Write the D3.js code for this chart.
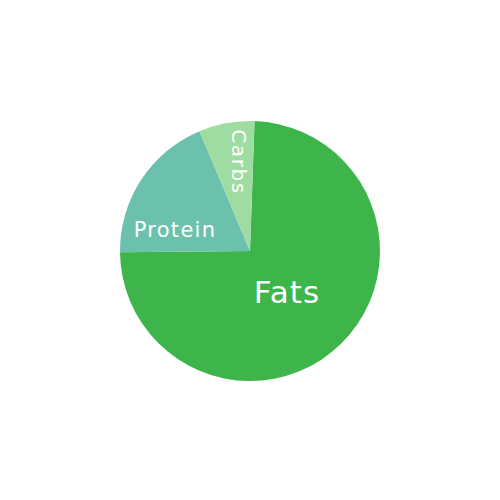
<!DOCTYPE html>
<html>
<head>
<meta charset="utf-8">
<script src="https://cdn.jsdelivr.net/npm/d3@7"></script>
<style>
  body { margin: 0; background: #fff; }
  svg { display: block; }
</style>
</head>
<body>
<script>
// macro split (percent)
var names = ["Fats", "Protein", "Carbs"];
var values = [74.3, 18.8, 6.9];
var colors = ["#3db54b", "#6cc1ac", "#9edca2"];

var width = 500, height = 500,
    cx = 250, cy = 251, radius = 130;

var svg = d3.select("body").append("svg")
    .attr("width", width)
    .attr("height", height);

var g = svg.append("g")
    .attr("transform", "translate(" + cx + "," + cy + ")");

var data = names.map(function(n, i) { return {name: n, value: values[i], color: colors[i]}; });

// fats start just past 12 o'clock, going clockwise
var start = 2 * Math.PI / 180;
var pie = d3.pie()
    .sort(null)
    .value(function(d) { return d.value; })
    .startAngle(start)
    .endAngle(start + 2 * Math.PI);

var arc = d3.arc().innerRadius(0).outerRadius(radius);

var arcs = pie(data);

g.selectAll("path.slice")
    .data(arcs)
    .enter().append("path")
    .attr("class", "slice")
    .attr("d", arc)
    .style("fill", function(d) { return d.data.color; });

// label placement (layout only)
var labelLayout = {
    Fats:    {x: 37,  y: 52,  size: 31, spacing: 1,   rotate: 0},
    Protein: {x: -75, y: -14, size: 21, spacing: 1.3, rotate: 0},
    Carbs:   {x: -18, y: -89, size: 20, spacing: 1.6, rotate: 90}
};

g.selectAll("text.label")
    .data(arcs)
    .enter().append("text")
    .attr("class", "label")
    .attr("transform", function(d) {
        var l = labelLayout[d.data.name];
        return "translate(" + l.x + "," + l.y + ") rotate(" + l.rotate + ")";
    })
    .attr("text-anchor", "middle")
    .style("font-family", "'DejaVu Sans', sans-serif")
    .style("font-size", function(d) { return labelLayout[d.data.name].size + "px"; })
    .style("letter-spacing", function(d) { return labelLayout[d.data.name].spacing + "px"; })
    .style("fill", "#fff")
    .text(function(d) { return d.data.name; });
</script>
</body>
</html>
